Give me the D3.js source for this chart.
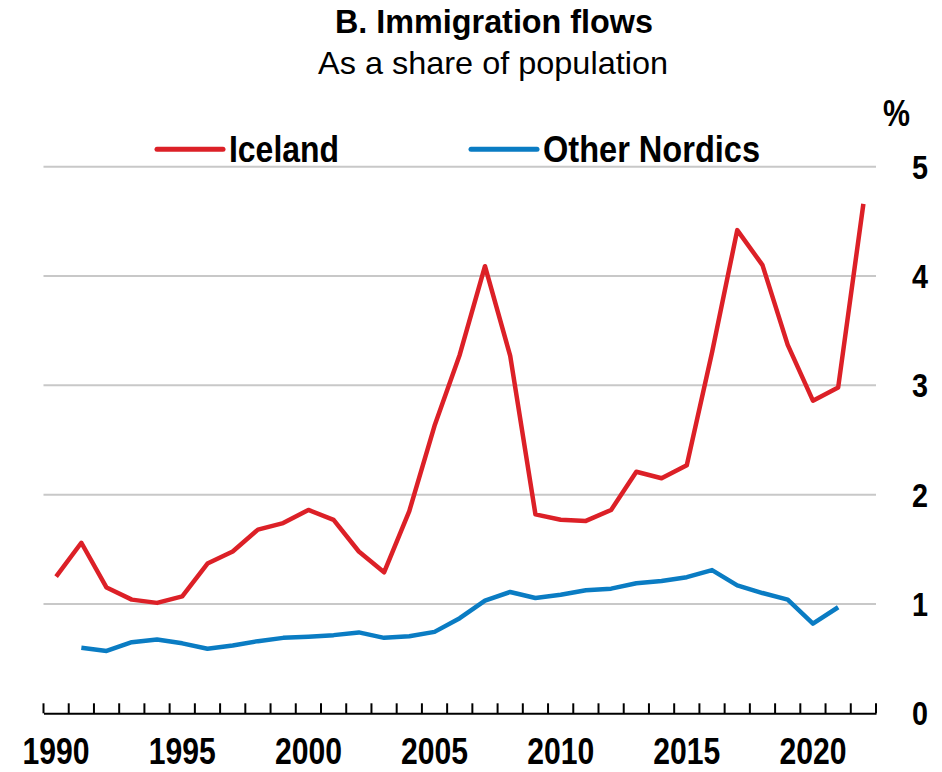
<!DOCTYPE html>
<html>
<head>
<meta charset="utf-8">
<script src="https://cdn.jsdelivr.net/npm/d3@7"></script>
<style>
  body { margin: 0; background: #fff; }
  text { font-family: "Liberation Sans Narrow", "Arial Narrow", "Liberation Sans", sans-serif; fill: #000; }
</style>
</head>
<body>
<script>
let w = 942;
let h = 772;

let years = d3.range(1990, 2023);
let iceland = [1.25, 1.56, 1.15, 1.04, 1.01, 1.07, 1.37, 1.48, 1.68, 1.74, 1.86, 1.77, 1.48, 1.29, 1.85,
  2.63, 3.28, 4.09, 3.27, 1.82, 1.77, 1.76, 1.86, 2.21, 2.15, 2.27, 3.30, 4.42, 4.10, 3.37, 2.86, 2.98, 4.66];
let nordics = [null, 0.60, 0.57, 0.65, 0.675, 0.64, 0.59, 0.62, 0.66, 0.69, 0.70, 0.715, 0.74, 0.69, 0.705,
  0.745, 0.87, 1.03, 1.11, 1.055, 1.085, 1.125, 1.14, 1.19, 1.21, 1.245, 1.31, 1.17, 1.10, 1.04, 0.82, 0.97, null];
let yTicks = [0, 1, 2, 3, 4, 5];
let xLabels = [1990, 1995, 2000, 2005, 2010, 2015, 2020];
let seriesNames = ["Iceland", "Other Nordics"];
let colors = ["#dc2027", "#0a7cc3"];

let svg = d3.select("body")
            .append("svg")
            .attr("width", w)
            .attr("height", h);

let x = d3.scaleBand().domain(years).range([43.5, 876]);
let y = d3.scaleLinear().domain([0, 5]).range([713.3, 166.7]);
let cx = d => x(d) + x.bandwidth() / 2;

// narrow font is not installed, so squeeze text to its width in the picture
function txt(sel, width) {
  return sel.attr("textLength", width).attr("lengthAdjust", "spacingAndGlyphs");
}

// title
txt(svg.append("text").attr("x", 335).attr("y", 33)
   .attr("font-size", 34).attr("font-weight", "bold").text("B. Immigration flows"), 318);
txt(svg.append("text").attr("x", 318).attr("y", 74)
   .attr("font-size", 32).text("As a share of population"), 350);

// gridlines
svg.selectAll(".grid")
   .data(yTicks.filter(d => d > 0))
   .enter()
   .append("line")
   .attr("x1", 43.5).attr("x2", 876)
   .attr("y1", d => y(d)).attr("y2", d => y(d))
   .attr("stroke", "#c8c8c8")
   .attr("stroke-width", 2);

// y labels on right
txt(svg.selectAll(".ylab")
   .data(yTicks)
   .enter()
   .append("text")
   .attr("x", 912)
   .attr("y", d => y(d) + 12)
   .attr("font-size", 34)
   .attr("font-weight", "bold")
   .text(d => d), 16);
txt(svg.append("text").attr("x", 883).attr("y", 126)
   .attr("font-size", 37).attr("font-weight", "bold").text("%"), 27);

// x axis with ticks on band boundaries
let xAxis = d3.axisBottom(x).tickValues([]).tickSizeOuter(0);
let ax = svg.append("g").attr("transform", "translate(0,713.3)").call(xAxis);
ax.select(".domain").attr("stroke", "#000").attr("stroke-width", 2);
let bounds = years.map(d => x(d)).concat([x(2022) + x.bandwidth()]);
ax.selectAll(".btick")
  .data(bounds)
  .enter()
  .append("line")
  .attr("x1", d => d).attr("x2", d => d)
  .attr("y1", 0).attr("y2", -10)
  .attr("stroke", "#000")
  .attr("stroke-width", 2);
txt(svg.selectAll(".xlab")
   .data(xLabels)
   .enter()
   .append("text")
   .attr("x", d => cx(d) - 33.5)
   .attr("y", 764)
   .attr("font-size", 37)
   .attr("font-weight", "bold")
   .text(d => d), 67);

// lines
let line = d3.line()
  .defined(d => d.v != null)
  .x(d => cx(d.year))
  .y(d => y(d.v));

[iceland, nordics].forEach((vals, i) => {
  svg.append("path")
     .datum(years.map((yr, j) => ({ year: yr, v: vals[j] })))
     .attr("fill", "none")
     .attr("stroke", colors[i])
     .attr("stroke-width", 4.5)
     .attr("stroke-linejoin", "round")
     .attr("d", line);
});

// legend
let legX = [157, 471];
let legW = [110, 217];
seriesNames.forEach((name, i) => {
  svg.append("line")
     .attr("x1", legX[i]).attr("x2", legX[i] + 66)
     .attr("y1", 149.3).attr("y2", 149.3)
     .attr("stroke", colors[i])
     .attr("stroke-width", 5)
     .attr("stroke-linecap", "round");
  txt(svg.append("text")
     .attr("x", legX[i] + 72)
     .attr("y", 161.7)
     .attr("font-size", 37)
     .attr("font-weight", "bold")
     .text(name), legW[i]);
});
</script>
</body>
</html>
